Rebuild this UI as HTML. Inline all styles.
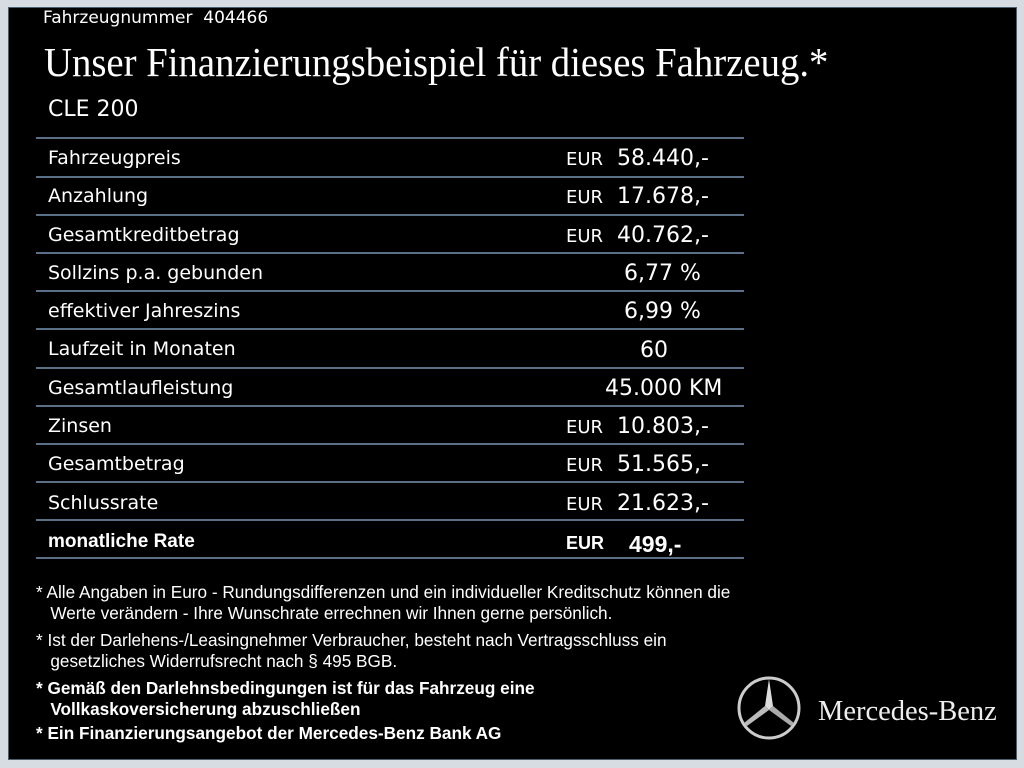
<!DOCTYPE html>
<html><head><meta charset="utf-8"><style>
body{margin:0;width:1024px;height:768px;background:#d7dce2;position:relative;overflow:hidden;font-family:"DejaVu Sans","Liberation Sans",sans-serif;}
#bk{position:absolute;left:8px;top:7px;width:1007px;height:751px;background:#000;border:1px solid #4a6070;}
.t{position:absolute;color:#fff;white-space:nowrap;}
.ln{position:absolute;left:36px;width:708px;height:2px;background:#5a7088;}
.f{position:absolute;color:#fff;font-family:"Liberation Sans",sans-serif;font-size:17.2px;line-height:21px;white-space:nowrap;}
</style></head><body>
<div id="bk"></div>
<div class="t" style="left:43px;top:8px;font-size:17px">Fahrzeugnummer&nbsp; 404466</div>
<div class="t" style="left:44px;top:38px;font-family:'Liberation Serif',serif;font-size:41px;transform:scaleX(0.945);transform-origin:left">Unser Finanzierungsbeispiel für dieses Fahrzeug.*</div>
<div class="t" style="left:48px;top:97px;font-size:22px">CLE 200</div>
<div class="ln" style="top:137px"></div><div class="ln" style="top:176px"></div><div class="ln" style="top:214px"></div><div class="ln" style="top:252px"></div><div class="ln" style="top:290px"></div><div class="ln" style="top:328px"></div><div class="ln" style="top:367px"></div><div class="ln" style="top:405px"></div><div class="ln" style="top:443px"></div><div class="ln" style="top:481px"></div><div class="ln" style="top:519px"></div><div class="ln" style="top:557px"></div>
<div style="position:absolute;left:48px;top:139px;font-size:19px;color:#fff;line-height:38.3px;white-space:nowrap">
Fahrzeugpreis<br>Anzahlung<br>Gesamtkreditbetrag<br>Sollzins p.a. gebunden<br>effektiver Jahreszins<br>Laufzeit in Monaten<br>Gesamtlaufleistung<br>Zinsen<br>Gesamtbetrag<br>Schlussrate<br><b style="font-family:'Liberation Sans',sans-serif;font-size:19px">monatliche Rate</b></div>
<div class="t" style="left:566px;top:141px;font-size:18px;line-height:38.3px">EUR<br>EUR<br>EUR<br><br><br><br><br>EUR<br>EUR<br>EUR<br><b style="font-family:'Liberation Sans',sans-serif">EUR</b></div>
<div class="t" style="left:617px;top:140px;font-size:22px;line-height:38.3px">58.440,-<br>17.678,-<br>40.762,-<br><br><br><br><br>10.803,-<br>51.565,-<br>21.623,-<br></div>
<div class="t" style="left:624px;top:261px;font-size:22px">6,77 %</div>
<div class="t" style="left:624px;top:299px;font-size:22px">6,99 %</div>
<div class="t" style="left:640px;top:338px;font-size:22px">60</div>
<div class="t" style="left:605px;top:376px;font-size:22px">45.000 KM</div>
<div class="t" style="left:629px;top:531px;font-size:23px;font-weight:bold;font-family:'Liberation Sans',sans-serif">499,-</div>
<div class="f" style="left:36px;top:582px">* Alle Angaben in Euro - Rundungsdifferenzen und ein individueller Kreditschutz können die<br>&nbsp;&nbsp;&nbsp;Werte verändern - Ihre Wunschrate errechnen wir Ihnen gerne persönlich.</div>
<div class="f" style="left:36px;top:630px">* Ist der Darlehens-/Leasingnehmer Verbraucher, besteht nach Vertragsschluss ein<br>&nbsp;&nbsp;&nbsp;gesetzliches Widerrufsrecht nach § 495 BGB.</div>
<div class="f" style="left:36px;top:678px;font-weight:bold">* Gemäß den Darlehnsbedingungen ist für das Fahrzeug eine<br>&nbsp;&nbsp;&nbsp;Vollkaskoversicherung abzuschließen</div>
<div class="f" style="left:36px;top:723px;font-weight:bold">* Ein Finanzierungsangebot der Mercedes-Benz Bank AG</div>
<svg style="position:absolute;left:736px;top:675px" width="66" height="66" viewBox="0 0 66 66">
<circle cx="33" cy="33" r="30" fill="none" stroke="#ccc" stroke-width="3"/>
<polygon points="33,4 37,31 33,35 29,31" fill="#ddd"/>
<polygon points="33,35 37,31 58,48 55,51" fill="#aaa"/>
<polygon points="33,35 29,31 8,48 11,51" fill="#bbb"/>
</svg>
<div class="t" style="left:818px;top:696px;font-family:'Liberation Serif',serif;font-size:28.5px;color:#eee">Mercedes-Benz</div>
</body></html>
